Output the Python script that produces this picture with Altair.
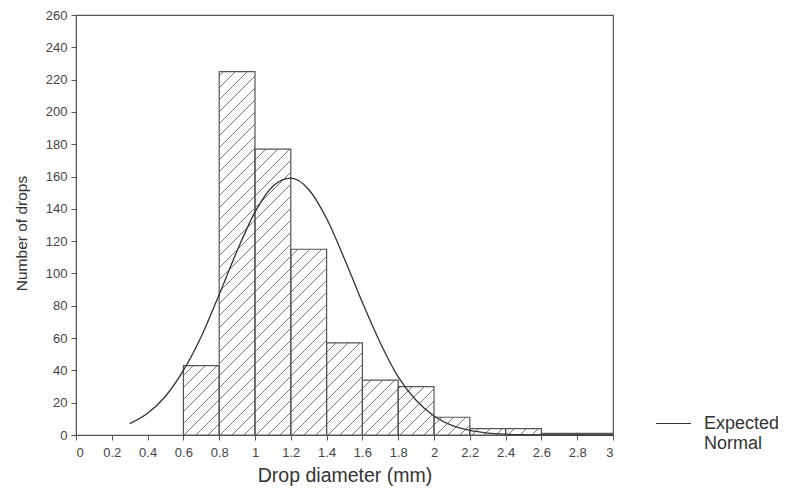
import math
import altair as alt
import pandas as pd

# ---- data ----
bin_start = [0.6, 0.8, 1.0, 1.2, 1.4, 1.6, 1.8, 2.0, 2.2, 2.4, 2.6, 2.8]
bin_end = [0.8, 1.0, 1.2, 1.4, 1.6, 1.8, 2.0, 2.2, 2.4, 2.6, 2.8, 3.0]
counts = [43, 225, 177, 115, 57, 34, 30, 11, 4, 4, 1, 1]

curve_x = [0.3, 0.4, 0.5, 0.6, 0.7, 0.8, 0.9, 1.0, 1.1, 1.2, 1.3, 1.4, 1.5,
           1.6, 1.7, 1.8, 1.9, 2.0, 2.1, 2.2, 2.3, 2.4, 2.5, 2.6, 2.7, 2.8, 2.9, 3.0]
curve_y = [7, 13.4, 24, 40, 61, 87, 114, 138, 154, 159, 152, 134, 109,
           82, 57, 36, 21.5, 11.8, 5.9, 2.8, 1.2, 0.5, 0.2, 0.1, 0.05, 0, 0, 0]

x_ticks = [0, 0.2, 0.4, 0.6, 0.8, 1.0, 1.2, 1.4, 1.6, 1.8, 2.0, 2.2, 2.4, 2.6, 2.8, 3.0]
y_ticks = [0, 20, 40, 60, 80, 100, 120, 140, 160, 180, 200, 220, 240, 260]

series_name = "Expected Normal"

# ---- layout ----
W, H = 537, 420
XMAX, YMAX = 3.0, 260.0
FONT = "Liberation Sans"

bars = pd.DataFrame({"start": bin_start, "end": bin_end, "count": counts})
curve = pd.DataFrame({"x": curve_x, "y": curve_y, "series": series_name})

# hatch segments (45 degree lines in pixel space) clipped to each bar
px_x = W / XMAX
px_y = H / YMAX
k = px_x / px_y            # data slope that is 45 degrees on screen
step = 12.0 / px_y         # vertical spacing between hatch lines
segs = []
for x0, x1, h in zip(bin_start, bin_end, counts):
    n0 = math.ceil((-k * x1) / step)
    n1 = math.floor((h - k * x0) / step)
    for n in range(n0, n1 + 1):
        c = n * step
        xa = max(x0, -c / k)
        xb = min(x1, (h - c) / k)
        if xb - xa > 1e-6:
            segs.append({"xa": xa, "ya": k * xa + c, "xb": xb, "yb": k * xb + c})
hatch = pd.DataFrame(segs)

xs = alt.Scale(domain=[0, XMAX], nice=False, zero=False)
ys = alt.Scale(domain=[0, YMAX], nice=False)

common = dict(grid=False, tickSize=5, domainColor="#555555", tickColor="#555555",
              labelFont=FONT, labelFontSize=13, labelColor="#444444",
              titleFont=FONT, titleFontWeight="normal", titleColor="#333333")
x_axis = alt.Axis(values=x_ticks, labelExpr="format(datum.value, '~g')",
                  title="Drop diameter (mm)", titlePadding=7, labelPadding=6,
                  titleFontSize=19.5, **common)
y_axis = alt.Axis(values=y_ticks, title="Number of drops", titlePadding=16,
                  labelPadding=4, titleFontSize=15.5, titleY=218, **common)


def xy(xf, yf):
    return dict(x=alt.X(xf, scale=xs, axis=x_axis), y=alt.Y(yf, scale=ys, axis=y_axis))


fill = alt.Chart(bars).mark_rect(fill="white", stroke=None).encode(
    x2="end:Q", y2=alt.datum(0), **xy("start:Q", "count:Q")
)

hatch_layer = alt.Chart(hatch).mark_rule(color="#555555", strokeWidth=0.8).encode(
    x2="xb:Q", y2="yb:Q", **xy("xa:Q", "ya:Q")
)

outline = alt.Chart(bars).mark_rect(fill=None, stroke="#555555", strokeWidth=1.2).encode(
    x2="end:Q", y2=alt.datum(0), **xy("start:Q", "count:Q")
)

line = alt.Chart(curve).mark_line(interpolate="monotone", strokeWidth=1.3).encode(
    color=alt.Color(
        "series:N",
        scale=alt.Scale(domain=[series_name], range=["#333333"]),
        legend=alt.Legend(
            title=None, orient="none", legendX=579, legendY=390,
            symbolType="stroke", symbolSize=1225, symbolStrokeWidth=1.2,
            labelExpr="['Expected', 'Normal']", labelFontSize=18,
            labelFont=FONT, labelColor="#333333", labelOffset=12,
            labelLimit=200, padding=0,
        ),
    ),
    **xy("x:Q", "y:Q"),
)

chart = alt.layer(fill, hatch_layer, outline, line).properties(
    width=W, height=H,
    background="white",
    autosize=alt.AutoSizeParams(type="none"),
    padding={"left": 68, "top": 7, "right": 165, "bottom": 52},
).configure_view(
    stroke="#555555", strokeWidth=1.2
).configure_legend(
    labelFontSize=18, labelFont=FONT, labelColor="#333333"
)

chart.save("out.html", embed_options={"renderer": "svg", "actions": False})
